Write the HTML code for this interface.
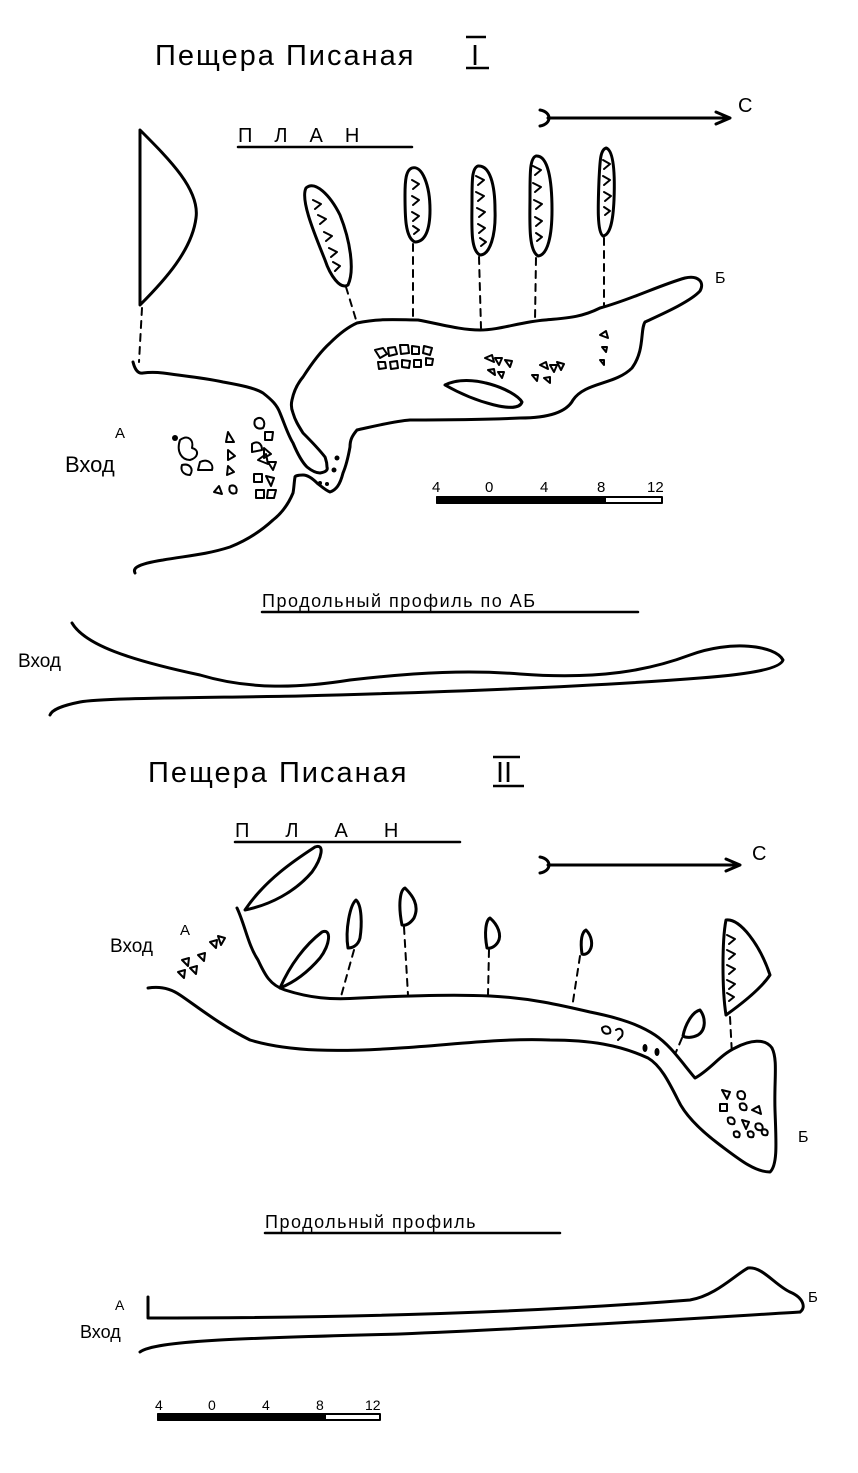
<!DOCTYPE html>
<html><head><meta charset="utf-8"><style>
html,body{margin:0;padding:0;background:#fff}
svg{display:block}
text{font-family:"Liberation Sans",sans-serif;fill:#000}
</style></head><body>
<svg width="858" height="1473" viewBox="0 0 858 1473" xmlns="http://www.w3.org/2000/svg">
<rect width="858" height="1473" fill="#fff"/>
<g fill="none" stroke="#000" stroke-width="3" stroke-linecap="round" stroke-linejoin="round">
<path d="M548,118 L728,118"/><path d="M716,112 L730,118 L716,124"/>
<path d="M540,110 C552,112 552,124 540,126"/>
<path d="M140,130 C170,160 200,190 196,218 C192,250 165,280 140,305 Z"/>
<path d="M142,308 L139,362" stroke-dasharray="7,6" stroke-width="2"/>
<path d="M133,362 C135,370 138,374 143,373 C150,372 155,372 163,373 C185,376 205,378 223,382 C240,385 255,388 263,393 C272,400 277,405 280,413 C285,425 288,435 293,443 C298,455 302,462 307,467 C312,471 316,473 320,473 C326,472 328,470 327,467 C327,462 326,460 325,457 C318,448 310,440 303,433 C298,425 295,420 293,413 C291,408 291,404 292,400 C294,390 298,383 303,377 C312,363 320,352 330,343 C340,333 348,327 357,323 C380,318 400,320 418,320 C440,324 460,330 480,330 C500,330 520,322 545,320 C565,318 580,318 600,308 C630,300 660,285 685,278 C698,275 705,282 700,291 C690,302 660,315 645,322 C640,330 645,350 632,368 C615,385 585,382 573,400 C565,415 540,418 520,418 C480,420 440,420 410,420 C395,421 375,426 357,430 C352,436 350,440 350,447 C348,458 346,466 343,473 C340,485 336,490 330,492 C325,490 321,486 317,483 C312,478 307,475 303,475 C298,475 295,476 295,477 C294,483 294,488 293,493 C288,505 282,513 273,520 C260,532 245,541 230,547 C205,555 185,556 163,560 C150,562 142,564 137,567 C134,569 134,571 135,573"/>
<path d="M445,385 C470,372 515,390 522,402 C518,415 475,402 445,385 Z"/>
<path d="M306,188 C315,180 330,195 340,215 C350,240 355,270 348,285 C340,290 330,275 325,260 C315,235 300,200 306,188 Z"/>
<path d="M346,287 L357,323" stroke-dasharray="7,6" stroke-width="2"/>
<path d="M412,168 C422,165 430,185 430,210 C430,230 425,242 415,242 C405,238 405,215 405,195 C405,180 406,170 412,168 Z"/>
<path d="M413,244 L413,318" stroke-dasharray="7,6" stroke-width="2"/>
<path d="M478,166 C490,165 495,185 495,210 C496,235 490,255 480,255 C470,250 472,225 472,200 C472,180 472,168 478,166 Z"/>
<path d="M479,257 L481,328" stroke-dasharray="7,6" stroke-width="2"/>
<path d="M536,156 C548,155 552,180 552,210 C552,235 548,255 538,256 C528,250 530,220 530,195 C530,172 530,158 536,156 Z"/>
<path d="M536,258 L535,320" stroke-dasharray="7,6" stroke-width="2"/>
<path d="M606,148 C614,150 615,175 614,200 C613,222 610,235 603,236 C597,232 598,205 599,180 C600,162 600,150 606,148 Z"/>
<path d="M604,238 L604,305" stroke-dasharray="7,6" stroke-width="2"/>
<g stroke-width="2">
<path d="M313,200 l8,4 l-6,5 M318,215 l8,4 l-6,5 M324,232 l8,4 l-6,5 M329,248 l8,4 l-6,5 M333,262 l7,4 l-5,5"/>
<path d="M412,180 l7,4 l-6,5 M412,196 l7,4 l-6,5 M412,212 l7,4 l-6,5 M413,226 l6,4 l-5,4"/>
<path d="M476,176 l8,4 l-6,5 M476,192 l8,4 l-6,5 M477,208 l8,4 l-6,5 M478,224 l7,4 l-6,5 M480,238 l6,4 l-5,4"/>
<path d="M533,166 l8,4 l-6,5 M533,183 l8,4 l-6,5 M534,200 l8,4 l-6,5 M535,217 l7,4 l-6,5 M536,233 l6,4 l-5,4"/>
<path d="M603,160 l7,4 l-6,5 M603,176 l7,4 l-6,5 M604,192 l7,4 l-6,5 M604,207 l6,4 l-5,4"/>
</g>
<g stroke-width="2">
<path d="M375,350 l8,-2 l4,6 l-7,4 z M388,348 l7,-1 l2,7 l-8,2 z M400,345 l8,0 l1,8 l-8,1 z M412,346 l7,1 l0,7 l-7,0 z M424,346 l8,2 l-2,7 l-7,-2 z M378,362 l7,0 l1,6 l-7,1 z M390,362 l7,-1 l1,7 l-7,1 z M402,360 l8,1 l-1,7 l-7,-1 z M414,360 l7,0 l0,7 l-7,0 z M426,358 l7,1 l-1,6 l-6,0 z"/>
<path d="M485,358 l7,-3 l2,7 z M495,358 l7,0 l-3,7 z M505,360 l7,1 l-2,6 z M488,370 l6,-1 l1,6 z M498,372 l6,0 l-2,6 z M540,365 l6,-3 l2,7 z M550,365 l7,0 l-3,7 z M532,375 l6,0 l-1,6 z M544,378 l6,-1 l0,6 z M557,362 l7,2 l-3,6 z"/>
<path d="M600,335 l6,-4 l2,7 z M602,347 l5,0 l-1,5 z M600,360 l4,0 l0,5 z"/>
<path d="M180,440 c8,-6 14,0 12,8 c8,2 6,10 -2,12 c-8,0 -14,-8 -10,-20 z M200,462 c8,-4 14,2 12,8 l-14,0 z M182,465 c8,-2 12,4 8,10 c-6,0 -10,-4 -8,-10 z"/>
<path d="M228,432 l6,10 l-8,0 z M228,450 l7,6 l-7,4 z M228,466 l6,6 l-7,3 z M230,486 c5,-2 8,2 6,7 c-5,2 -8,-2 -6,-7 z M214,492 l5,-6 l3,8 z"/>
<path d="M255,420 c6,-6 12,2 8,8 c-6,2 -10,-2 -8,-8 z M265,432 l8,0 l-1,8 l-7,0 z M252,444 c6,-4 10,0 10,6 l-10,2 z M264,448 l7,6 l-7,4 z M258,460 l8,-6 l2,10 z M268,462 l8,0 l-3,8 z M254,474 l8,0 l0,8 l-8,0 z M266,476 l8,2 l-3,8 z M256,490 l8,0 l0,8 l-8,0 z M268,490 l8,0 l-2,8 l-7,0 z"/>
</g>
<g stroke="none" fill="#000">
<circle cx="337" cy="458" r="2.5"/><circle cx="334" cy="470" r="2.5"/><circle cx="320" cy="483" r="2"/><circle cx="327" cy="484" r="2"/><circle cx="175" cy="438" r="3"/>
</g>
<rect x="437" y="497" width="225" height="6" stroke-width="2"/>
<rect x="437" y="497" width="168" height="6" fill="#000" stroke-width="2"/>
<!-- profile I -->
<path d="M72,623 C85,645 130,660 200,675 C250,690 300,688 350,680 C420,672 470,670 520,674 C600,680 650,670 690,655 C730,640 775,645 783,660 C780,670 740,675 700,678 C600,686 450,692 300,696 C180,698 100,698 80,702 C60,706 52,710 50,715"/>

<!-- ===== Cave II ===== -->
<path d="M548,865 L738,865"/><path d="M726,859 L740,865 L726,871"/>
<path d="M540,857 C552,859 552,871 540,873"/>
<path d="M237,908 C245,925 248,945 258,960 C265,975 270,985 285,990 C310,998 330,1000 360,998 C400,996 450,994 490,996 C530,998 560,1005 590,1012 C620,1018 640,1025 655,1035 C670,1045 680,1060 695,1078 C710,1070 720,1055 735,1048 C750,1040 765,1038 772,1048 C778,1060 774,1080 775,1110 C776,1140 778,1165 770,1172 C755,1172 740,1160 720,1145 C700,1130 685,1115 678,1100 C668,1080 660,1065 648,1058 C620,1045 590,1040 550,1040 C500,1038 450,1045 400,1048 C340,1052 290,1052 250,1040 C220,1025 195,1005 180,995 C170,988 160,986 148,988"/>
<path d="M245,910 C265,880 295,860 315,847 C325,843 322,858 312,872 C295,892 270,905 245,910 Z"/>
<path d="M280,988 C290,965 305,945 322,932 C332,928 330,945 320,958 C308,972 295,982 280,988 Z"/>
<path d="M348,948 C345,930 350,905 356,900 C362,905 362,925 360,938 C358,946 352,948 348,948 Z"/>
<path d="M354,950 L340,1000" stroke-dasharray="7,6" stroke-width="2"/>
<path d="M402,925 C398,905 400,890 405,888 C412,895 420,905 414,918 C410,924 405,926 402,925 Z"/>
<path d="M404,927 L408,995" stroke-dasharray="7,6" stroke-width="2"/>
<path d="M487,948 C484,932 486,920 490,918 C498,925 502,935 498,942 C495,947 490,949 487,948 Z"/>
<path d="M489,950 L488,995" stroke-dasharray="7,6" stroke-width="2"/>
<path d="M582,954 C580,940 582,932 586,930 C592,936 593,945 590,950 C588,954 584,955 582,954 Z"/>
<path d="M580,956 L572,1008" stroke-dasharray="7,6" stroke-width="2"/>
<path d="M683,1036 C685,1025 692,1012 700,1010 C706,1018 706,1030 698,1035 C692,1038 686,1038 683,1036 Z"/>
<path d="M682,1038 L676,1052" stroke-dasharray="7,6" stroke-width="2"/>
<path d="M726,920 C740,918 760,945 770,975 C760,990 740,1005 726,1015 C722,990 722,940 726,920 Z"/>
<path d="M730,1017 L732,1055" stroke-dasharray="7,6" stroke-width="2"/>
<g stroke-width="2">
<path d="M727,935 l8,4 l-6,5 M727,950 l8,4 l-6,5 M727,965 l8,4 l-6,5 M727,980 l8,4 l-6,5 M727,993 l7,4 l-5,4"/>
<path d="M182,960 l7,-2 l-1,8 z M190,968 l7,-2 l-1,8 z M178,972 l7,-2 l-1,8 z M198,955 l7,-2 l-1,8 z M210,942 l7,-2 l-1,8 z M218,936 l7,2 l-4,7 z"/>
<path d="M602,1028 c4,-4 10,0 8,5 c-4,2 -8,0 -8,-5 z M616,1030 c4,-3 8,0 6,6 l-4,4"/>
<path d="M722,1090 l8,2 l-3,7 z M738,1092 c5,-3 9,2 6,7 c-5,1 -8,-2 -6,-7 z M720,1104 l7,0 l0,7 l-7,0 z M740,1104 c5,-2 8,2 6,6 c-5,1 -7,-2 -6,-6 z M752,1110 l7,-4 l2,8 z M728,1118 c5,-2 8,2 6,6 c-5,1 -7,-2 -6,-6 z M742,1120 l7,2 l-3,7 z M756,1124 c5,-2 8,2 6,6 c-5,1 -8,-2 -6,-6 z M734,1132 c4,-2 7,1 5,5 c-4,1 -6,-1 -5,-5 z M748,1132 c4,-2 7,1 5,5 c-4,1 -6,-1 -5,-5 z M762,1130 c4,-2 7,1 5,5 c-4,1 -6,-1 -5,-5 z"/>
</g>
<g stroke="none" fill="#000"><ellipse cx="645" cy="1048" rx="2.5" ry="4"/><ellipse cx="657" cy="1052" rx="2.5" ry="4"/></g>
<path d="M148,1297 L148,1318 C300,1318 500,1315 690,1300 C715,1296 735,1275 748,1268 C762,1266 775,1285 790,1292 C804,1298 806,1308 800,1312"/>
<path d="M140,1352 C155,1340 250,1338 400,1334 C550,1328 700,1318 800,1312"/>
<rect x="158" y="1414" width="222" height="6" stroke-width="2"/>
<rect x="158" y="1414" width="167" height="6" fill="#000" stroke-width="2"/>
<path d="M238,147 L412,147 M262,612 L638,612 M235,842 L460,842 M265,1233 L560,1233" stroke-width="2.5"/>
</g>
<text x="155" y="65" font-size="29" letter-spacing="2">Пещера Писаная</text>
<text x="471" y="65" font-size="29">I</text>
<path d="M466,37 L486,37 M466,68 L489,68" stroke="#000" stroke-width="2.5"/>
<text x="238" y="142" font-size="20" letter-spacing="22">ПЛАН</text>
<text x="738" y="112" font-size="20">С</text>
<text x="715" y="283" font-size="16">Б</text>
<text x="115" y="438" font-size="15">А</text>
<text x="65" y="472" font-size="22">Вход</text>
<g font-size="15"><text x="432" y="492">4</text><text x="485" y="492">0</text><text x="540" y="492">4</text><text x="597" y="492">8</text><text x="647" y="492">12</text></g>
<text x="262" y="607" font-size="18" letter-spacing="1.5">Продольный профиль по АБ</text>
<text x="18" y="667" font-size="19">Вход</text>
<text x="148" y="782" font-size="29" letter-spacing="2">Пещера Писаная</text>
<text x="496" y="782" font-size="29">II</text>
<path d="M493,757 L520,757 M493,786 L524,786" stroke="#000" stroke-width="2.5"/>
<text x="235" y="837" font-size="20" letter-spacing="36">ПЛАН</text>
<text x="752" y="860" font-size="20">С</text>
<text x="110" y="952" font-size="19">Вход</text>
<text x="180" y="935" font-size="15">А</text>
<text x="798" y="1142" font-size="16">Б</text>
<text x="265" y="1228" font-size="18" letter-spacing="1.5">Продольный профиль</text>
<text x="115" y="1310" font-size="14">А</text>
<text x="80" y="1338" font-size="18">Вход</text>
<text x="808" y="1302" font-size="15">Б</text>
<g font-size="14"><text x="155" y="1410">4</text><text x="208" y="1410">0</text><text x="262" y="1410">4</text><text x="316" y="1410">8</text><text x="365" y="1410">12</text></g>
</svg>
</body></html>
